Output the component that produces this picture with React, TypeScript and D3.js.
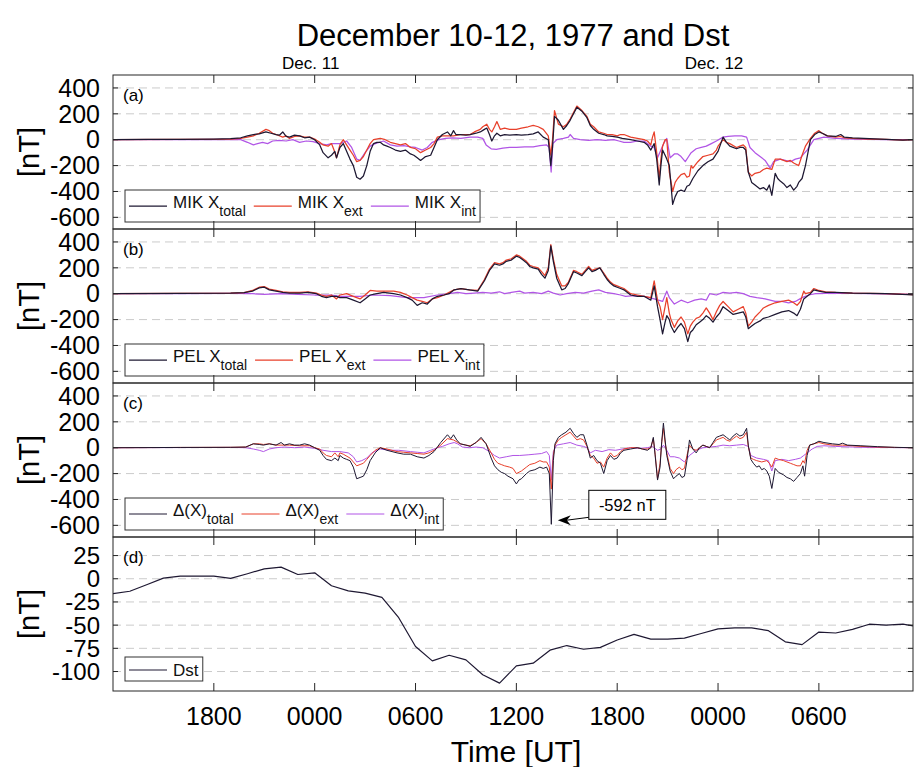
import React, { useEffect, useRef } from 'react';
import * as d3 from 'd3';

type Pt = [number, number];

// time axis: hours after 1200 UT, Dec. 10, 1977
const tEnd = 47.6;
const tickHours = [6, 12, 18, 24, 30, 36, 42];
const tickLabels = ['1800', '0000', '0600', '1200', '1800', '0000', '0600'];
const dayHours = [12, 36];
const dayLabels = ['Dec. 11', 'Dec. 12'];
const nTTicks = [400, 200, 0, -200, -400, -600];
const dstTicks = [25, 0, -25, -50, -75, -100];

// (a) MIK
const mikTotal: Pt[] = [[0,0],[2,2],[4,3],[6,5],[7,8],[7.6,15],[8,30],[8.35,40],[8.7,45],[9.1,60],[9.4,50],[9.7,40],[9.9,35],[10.1,60],[10.3,25],[10.5,20],[10.8,35],[11.1,30],[11.4,15],[11.7,20],[12.0,0],[12.3,-40],[12.5,-100],[12.8,-140],[13.0,-120],[13.2,-90],[13.3,-140],[13.5,-60],[13.7,-30],[13.9,-90],[14.1,-150],[14.3,-200],[14.5,-290],[14.7,-305],[14.9,-280],[15.1,-200],[15.3,-90],[15.5,-30],[15.7,-20],[15.9,-20],[16.1,-40],[16.3,-50],[16.5,-60],[16.8,-80],[17.1,-90],[17.4,-80],[17.7,-110],[17.9,-120],[18.1,-140],[18.3,-160],[18.6,-130],[18.9,-120],[19.1,-60],[19.3,0],[19.6,40],[19.9,60],[20.1,30],[20.26,70],[20.4,40],[20.66,40],[21.0,35],[21.25,40],[21.6,50],[21.85,60],[22.1,80],[22.24,90],[22.4,40],[22.54,-10],[22.7,30],[22.84,50],[23.04,30],[23.3,40],[23.6,35],[24.0,40],[24.3,35],[24.7,40],[25.0,45],[25.3,60],[25.6,20],[25.9,0],[26.05,-200],[26.15,-60],[26.27,180],[26.5,150],[26.8,80],[27.0,110],[27.2,150],[27.4,200],[27.6,250],[27.9,220],[28.2,170],[28.4,110],[28.6,80],[28.9,50],[29.2,40],[29.4,30],[29.7,25],[30.0,20],[30.3,10],[30.8,0],[31.2,-10],[31.6,-20],[31.8,-40],[32.0,-80],[32.2,-30],[32.35,-150],[32.5,-350],[32.6,-200],[32.7,-80],[32.85,-120],[32.95,-150],[33.1,-200],[33.3,-500],[33.45,-440],[33.6,-400],[33.8,-390],[34.0,-400],[34.15,-360],[34.3,-350],[34.5,-300],[34.8,-240],[35.1,-200],[35.4,-170],[35.7,-150],[35.9,-110],[36.0,-90],[36.3,20],[36.5,-20],[36.7,-50],[37.1,-70],[37.3,-60],[37.5,-60],[37.65,-80],[37.8,-250],[38.0,-330],[38.2,-350],[38.5,-380],[38.7,-370],[38.9,-390],[39.05,-350],[39.2,-430],[39.4,-260],[39.55,-300],[39.7,-320],[39.9,-340],[40.1,-370],[40.3,-350],[40.5,-390],[40.7,-360],[40.8,-330],[41.0,-300],[41.2,-200],[41.35,-100],[41.5,0],[41.75,40],[42.0,60],[42.2,50],[42.5,30],[43.0,25],[43.3,40],[43.5,20],[44,15],[45,8],[46,3],[47,-3],[47.6,0]];
const mikExt: Pt[] = [[0,0],[4,2],[7,5],[7.6,10],[8,20],[8.35,30],[8.7,50],[9.1,80],[9.3,70],[9.5,50],[9.7,40],[10.1,20],[10.3,30],[10.5,10],[10.8,25],[11.1,30],[11.4,20],[11.7,20],[12.0,5],[12.3,-20],[12.5,-40],[12.8,-50],[13.0,-30],[13.15,-80],[13.3,-140],[13.5,-40],[13.7,0],[13.9,-40],[14.1,-80],[14.3,-120],[14.5,-170],[14.7,-160],[14.9,-130],[15.1,-80],[15.3,-30],[15.5,0],[15.9,10],[16.2,0],[16.5,-20],[16.8,-30],[17.1,-40],[17.4,-30],[17.7,-60],[18.0,-70],[18.3,-100],[18.6,-80],[18.9,-60],[19.1,-30],[19.3,20],[19.6,30],[19.9,30],[20.26,30],[20.66,40],[21.0,40],[21.25,40],[21.5,60],[21.85,80],[22.0,100],[22.24,120],[22.4,80],[22.54,60],[22.7,100],[22.84,140],[23.04,80],[23.3,90],[23.6,80],[24.0,80],[24.3,90],[24.7,100],[25.0,110],[25.3,100],[25.6,80],[25.9,30],[26.05,-120],[26.15,0],[26.27,225],[26.5,120],[26.8,100],[27.0,120],[27.2,160],[27.4,210],[27.6,260],[27.9,225],[28.2,180],[28.4,120],[28.6,100],[28.9,60],[29.2,50],[29.4,40],[29.7,40],[30.0,30],[30.2,40],[30.4,40],[30.8,20],[31.2,10],[31.6,0],[31.8,-10],[32.0,-40],[32.1,20],[32.2,60],[32.35,-100],[32.5,-300],[32.6,-150],[32.7,-50],[32.85,0],[32.95,0],[33.1,-250],[33.3,-400],[33.45,-330],[33.6,-300],[33.8,-270],[34.0,-260],[34.15,-290],[34.3,-280],[34.4,-200],[34.5,-220],[34.8,-170],[35.1,-130],[35.4,-120],[35.7,-110],[35.9,-80],[36.0,-50],[36.3,0],[36.5,-20],[36.7,-30],[37.1,-60],[37.3,-50],[37.5,-40],[37.65,-60],[37.8,-250],[38.0,-280],[38.2,-260],[38.5,-250],[38.7,-230],[38.9,-220],[39.2,-230],[39.4,-150],[39.7,-150],[40.1,-170],[40.3,-160],[40.5,-180],[40.8,-200],[41.0,-120],[41.2,-50],[41.5,10],[41.75,50],[42.0,70],[42.2,50],[42.5,30],[43.0,20],[43.3,25],[43.5,15],[44,10],[45,5],[46,2],[47,-3],[47.6,0]];
const mikInt: Pt[] = [[0,0],[4,1],[7,3],[7.6,0],[8,-20],[8.35,-40],[8.6,-30],[8.9,-20],[9.2,-30],[9.5,-10],[9.9,-5],[10.3,-10],[10.7,0],[11.1,-20],[11.5,-10],[11.9,-15],[12.3,-30],[12.7,-40],[13.0,-30],[13.5,-30],[13.9,-10],[14.2,-60],[14.5,-150],[14.7,-160],[15.0,-100],[15.3,-50],[15.6,-30],[16.1,-10],[16.5,-40],[16.9,-50],[17.3,-45],[17.7,-55],[18.0,-60],[18.4,-80],[18.7,-60],[19.0,-20],[19.4,0],[19.8,10],[20.2,15],[20.7,10],[21.25,20],[21.7,20],[22.0,10],[22.2,-40],[22.5,-70],[22.8,-75],[23.2,-65],[23.6,-60],[24.0,-60],[24.5,-55],[25.0,-55],[25.4,-45],[25.8,-40],[25.95,-60],[26.07,-250],[26.17,-30],[26.4,0],[26.8,10],[27.1,20],[27.2,40],[27.4,10],[27.8,0],[28.3,-5],[28.8,0],[29.3,-5],[29.8,0],[30.1,-10],[30.4,-20],[30.8,-20],[31.2,-10],[31.6,-10],[32.0,-50],[32.2,-60],[32.4,-140],[32.6,-80],[32.8,-20],[32.95,10],[33.15,-140],[33.4,-110],[33.6,-110],[33.8,-130],[34.05,-170],[34.25,-130],[34.4,-100],[34.7,-70],[35.0,-60],[35.3,-50],[35.6,-30],[35.9,-10],[36.3,20],[36.6,25],[37.0,30],[37.4,30],[37.7,20],[37.9,-60],[38.2,-100],[38.5,-130],[38.8,-160],[39.1,-220],[39.3,-170],[39.7,-150],[40.0,-160],[40.3,-170],[40.6,-150],[40.9,-140],[41.1,-110],[41.3,-80],[41.5,-40],[41.7,0],[42.0,10],[42.3,20],[43,10],[44,5],[45,3],[46,0],[47.6,0]];

// (b) PEL
const pelTotal: Pt[] = [[0,0],[4,3],[7,5],[7.8,8],[8.3,20],[8.7,45],[9.0,50],[9.3,30],[9.7,20],[10.1,10],[10.5,5],[11.1,5],[11.6,10],[12.1,0],[12.4,-20],[12.7,-30],[13.0,-20],[13.3,-20],[13.5,-30],[13.9,-30],[14.3,-50],[14.7,-70],[15.0,-40],[15.3,-10],[15.7,0],[16.1,10],[16.7,0],[17.1,-10],[17.5,-30],[17.8,-50],[18.1,-90],[18.4,-70],[18.7,-80],[19.0,-40],[19.3,-20],[19.7,-10],[20.0,0],[20.3,30],[20.7,40],[21.2,30],[21.7,20],[22.1,100],[22.4,180],[22.7,230],[23.0,220],[23.2,230],[23.4,250],[23.7,260],[24.0,290],[24.2,280],[24.4,260],[24.6,240],[24.8,210],[25.0,200],[25.3,190],[25.5,150],[25.7,120],[25.9,180],[26.05,370],[26.2,250],[26.4,120],[26.7,30],[26.9,40],[27.1,80],[27.4,170],[27.6,160],[27.9,140],[28.1,170],[28.3,200],[28.5,170],[28.7,180],[28.97,200],[29.2,150],[29.4,110],[29.6,80],[29.8,60],[30.0,50],[30.2,40],[30.4,30],[30.8,-10],[31.2,-20],[31.6,-20],[32.0,-50],[32.2,60],[32.4,-100],[32.55,-200],[32.7,-310],[32.85,-220],[32.95,-170],[33.1,-200],[33.2,-250],[33.4,-300],[33.6,-260],[33.8,-230],[34.0,-270],[34.2,-370],[34.35,-300],[34.5,-280],[34.7,-240],[34.9,-220],[35.1,-200],[35.3,-170],[35.5,-190],[35.7,-220],[35.9,-180],[36.1,-150],[36.3,-100],[36.6,-130],[36.9,-160],[37.2,-150],[37.5,-140],[37.65,-180],[37.8,-270],[38.0,-250],[38.2,-230],[38.5,-210],[38.7,-190],[39.0,-180],[39.4,-160],[39.8,-140],[40.2,-130],[40.5,-150],[40.7,-170],[40.9,-120],[41.1,-40],[41.3,-20],[41.5,0],[41.7,30],[42.0,20],[42.4,10],[43,10],[44,5],[45,3],[46,0],[47.6,-10]];
const pelExt: Pt[] = [[0,0],[4,3],[7,5],[7.8,8],[8.3,25],[8.7,50],[9.0,55],[9.3,35],[9.7,25],[10.1,15],[10.5,10],[11.1,10],[11.6,15],[12.1,5],[12.4,-10],[12.7,-20],[13.0,-10],[13.3,-40],[13.5,-10],[13.9,0],[14.3,-20],[14.7,-40],[15.0,-10],[15.3,25],[15.7,20],[16.1,20],[16.7,20],[17.1,10],[17.5,-10],[17.8,-30],[18.1,-50],[18.4,-60],[18.7,-70],[19.0,-40],[19.3,-30],[19.7,-10],[20.0,10],[20.3,30],[20.7,40],[21.2,30],[21.7,25],[22.1,110],[22.4,190],[22.7,240],[23.0,230],[23.2,240],[23.4,260],[23.7,270],[24.0,300],[24.2,290],[24.4,270],[24.6,250],[24.8,220],[25.0,210],[25.3,200],[25.5,170],[25.7,140],[25.9,200],[26.05,380],[26.2,270],[26.4,150],[26.7,60],[26.9,60],[27.1,90],[27.4,180],[27.6,170],[27.9,150],[28.1,180],[28.3,210],[28.5,180],[28.7,190],[28.97,200],[29.2,160],[29.4,120],[29.6,90],[29.8,70],[30.0,60],[30.2,50],[30.4,40],[30.8,0],[31.2,-10],[31.6,-20],[32.0,-30],[32.2,100],[32.4,-50],[32.55,-100],[32.7,-200],[32.85,-100],[32.95,-30],[33.1,-150],[33.2,-200],[33.4,-260],[33.6,-210],[33.8,-180],[34.0,-220],[34.2,-310],[34.35,-250],[34.5,-220],[34.7,-190],[34.9,-180],[35.1,-150],[35.3,-110],[35.5,-150],[35.7,-200],[35.9,-140],[36.1,-90],[36.3,-60],[36.6,-100],[36.9,-140],[37.2,-120],[37.5,-100],[37.65,-150],[37.8,-250],[38.0,-220],[38.2,-180],[38.5,-140],[38.7,-110],[39.0,-90],[39.4,-70],[39.8,-60],[40.2,-50],[40.5,-70],[40.7,-90],[40.9,-60],[41.1,20],[41.2,0],[41.5,10],[41.7,40],[42.0,25],[42.4,15],[43,10],[44,5],[45,3],[46,0],[47.6,-8]];
const pelInt: Pt[] = [[0,0],[4,1],[7,2],[8.3,0],[9,-5],[10,0],[11,-5],[12,-10],[13,-10],[13.5,-20],[14.7,-20],[15.5,-10],[16.5,-15],[17.5,-30],[18.5,-30],[19.3,-10],[20,0],[20.5,10],[21,0],[21.5,5],[22,10],[22.5,5],[23,15],[23.3,0],[23.7,10],[24.2,20],[24.5,5],[25,10],[25.5,0],[25.9,20],[26.2,5],[26.6,-10],[27,0],[27.5,10],[28,5],[28.5,20],[28.9,30],[29.3,10],[29.8,0],[30.2,-10],[30.5,-20],[31,-15],[31.6,-20],[32.2,-40],[32.7,-60],[32.95,20],[33.1,-30],[33.4,-80],[33.8,-50],[34.2,-70],[34.6,-50],[35.0,-40],[35.3,-50],[35.5,0],[35.9,-10],[36.3,10],[36.7,5],[37.1,10],[37.5,0],[37.9,-20],[38.3,-30],[38.8,-40],[39.4,-60],[39.8,-60],[40.2,-70],[40.6,-60],[41.0,-30],[41.4,-10],[41.8,0],[43,5],[45,0],[47.6,-5]];

// (c) MIK - PEL differences
const dTotal: Pt[] = [[0,0],[4,2],[7,3],[7.9,5],[8.35,30],[8.7,25],[8.95,20],[9.3,30],[9.7,20],[10.0,40],[10.2,20],[10.5,30],[10.8,20],[11.1,20],[11.4,30],[11.7,20],[12.0,0],[12.3,-20],[12.5,-60],[12.7,-90],[13.0,-100],[13.2,-80],[13.4,-100],[13.5,-60],[13.7,-80],[13.9,-90],[14.1,-100],[14.3,-150],[14.5,-240],[14.7,-230],[14.9,-220],[15.1,-170],[15.3,-100],[15.6,-40],[15.9,0],[16.3,-20],[16.6,-30],[16.9,-40],[17.3,-50],[17.7,-50],[18.1,-70],[18.5,-80],[18.8,-60],[19.1,-30],[19.5,40],[19.9,100],[20.1,70],[20.26,100],[20.45,60],[20.66,30],[21.0,20],[21.25,10],[21.6,40],[21.9,80],[22.2,30],[22.5,-80],[22.7,-140],[22.9,-170],[23.1,-190],[23.3,-200],[23.5,-220],[23.8,-240],[24.0,-280],[24.15,-250],[24.3,-240],[24.6,-200],[24.8,-180],[25.1,-170],[25.4,-150],[25.6,-160],[25.8,-150],[25.96,-200],[26.08,-592],[26.2,-100],[26.3,30],[26.5,80],[26.7,100],[26.95,120],[27.2,150],[27.4,110],[27.6,80],[27.8,100],[28.0,100],[28.2,20],[28.4,-80],[28.6,-60],[28.8,-100],[29.0,-120],[29.2,-200],[29.4,-100],[29.6,-60],[29.8,-90],[30.0,-80],[30.2,-40],[30.4,-20],[30.8,-10],[31.2,0],[31.5,-10],[31.8,-20],[32.0,0],[32.15,80],[32.25,-50],[32.4,-250],[32.55,-150],[32.65,50],[32.75,190],[32.85,60],[32.95,-60],[33.15,-180],[33.35,-240],[33.5,-220],[33.7,-200],[33.85,-230],[34.0,-220],[34.15,-100],[34.3,60],[34.5,-10],[34.7,-40],[34.9,0],[35.1,20],[35.3,10],[35.5,0],[35.7,40],[35.9,80],[36.1,90],[36.3,100],[36.5,80],[36.7,60],[36.9,90],[37.1,110],[37.3,90],[37.5,100],[37.7,150],[37.8,20],[37.95,-90],[38.1,-120],[38.3,-150],[38.45,-140],[38.6,-170],[38.75,-160],[38.9,-180],[39.05,-220],[39.2,-315],[39.4,-160],[39.6,-190],[39.9,-210],[40.1,-230],[40.3,-240],[40.5,-260],[40.7,-230],[40.9,-200],[41.05,-140],[41.15,-220],[41.3,-60],[41.45,20],[41.7,30],[42.0,50],[42.3,40],[42.8,30],[43.2,25],[43.4,35],[43.7,20],[44.5,15],[45.5,8],[46.5,3],[47.6,0]];
const dExt: Pt[] = [[0,0],[4,2],[7,3],[7.9,5],[8.35,30],[8.7,30],[8.95,25],[9.3,30],[9.7,20],[10.0,20],[10.5,20],[11.1,15],[11.7,15],[12.0,0],[12.3,-10],[12.5,-40],[12.7,-60],[13.0,-70],[13.2,-40],[13.4,-70],[13.5,-40],[13.7,-50],[14.1,-80],[14.3,-110],[14.5,-140],[14.7,-130],[14.9,-120],[15.1,-90],[15.3,-60],[15.6,-20],[15.9,0],[16.3,-10],[16.6,-20],[16.9,-30],[17.3,-35],[17.7,-40],[18.1,-45],[18.5,-50],[18.8,-40],[19.1,-20],[19.5,20],[19.9,70],[20.26,60],[20.66,30],[21.0,20],[21.25,15],[21.6,40],[21.9,70],[22.2,30],[22.5,-40],[22.7,-90],[22.9,-120],[23.1,-130],[23.3,-140],[23.6,-150],[23.8,-160],[24.0,-200],[24.3,-180],[24.6,-150],[24.8,-130],[25.1,-120],[25.4,-100],[25.6,-110],[25.8,-110],[25.96,-150],[26.08,-320],[26.2,-60],[26.3,20],[26.5,60],[26.7,80],[26.95,100],[27.2,120],[27.4,90],[27.6,60],[27.8,70],[28.0,60],[28.2,10],[28.4,-60],[28.6,-80],[28.8,-120],[29.0,-110],[29.2,-150],[29.4,-80],[29.6,-40],[29.8,-70],[30.0,-60],[30.2,-30],[30.4,-10],[30.8,0],[31.2,0],[31.5,-10],[31.8,-10],[32.0,0],[32.15,70],[32.25,-40],[32.4,-240],[32.55,-120],[32.65,40],[32.75,150],[32.85,40],[32.95,-40],[33.15,-160],[33.35,-200],[33.5,-170],[33.7,-150],[33.85,-170],[34.0,-160],[34.15,-60],[34.3,20],[34.5,-10],[34.7,-20],[34.9,0],[35.1,20],[35.5,0],[35.7,30],[35.9,60],[36.1,70],[36.3,80],[36.5,60],[36.7,50],[36.9,70],[37.1,90],[37.3,70],[37.5,80],[37.7,120],[37.8,10],[37.95,-80],[38.1,-90],[38.3,-100],[38.6,-110],[38.9,-100],[39.05,-120],[39.2,-150],[39.4,-80],[39.6,-90],[39.9,-100],[40.1,-110],[40.3,-120],[40.5,-130],[40.7,-140],[40.9,-140],[41.05,-100],[41.15,-120],[41.3,-20],[41.45,20],[41.7,30],[42.0,40],[42.3,30],[42.8,20],[43.4,20],[44.5,10],[45.5,5],[46.5,2],[47.6,0]];
const dInt: Pt[] = [[0,0],[4,1],[7,2],[7.9,0],[8.35,-10],[8.7,-20],[8.95,-30],[9.3,-10],[9.7,0],[10.2,5],[10.8,0],[11.4,5],[12.0,-5],[12.5,-20],[13.0,-30],[13.5,-30],[14.0,-40],[14.3,-70],[14.5,-110],[14.8,-100],[15.1,-80],[15.4,-40],[15.9,-10],[16.5,-20],[17.0,-20],[17.7,-30],[18.1,-35],[18.5,-40],[18.9,-20],[19.3,0],[19.6,10],[20.0,30],[20.3,40],[20.5,30],[20.8,5],[21.2,0],[21.6,5],[22.0,0],[22.4,-30],[22.7,-60],[23.0,-80],[23.4,-70],[23.8,-60],[24.2,-60],[24.7,-55],[25.1,-50],[25.5,-45],[25.8,-30],[25.96,-60],[26.08,-250],[26.2,-30],[26.4,20],[26.8,30],[27.2,40],[27.6,20],[28.0,10],[28.2,0],[28.4,-40],[28.7,-20],[29.1,-30],[29.5,-15],[29.9,-20],[30.3,-10],[30.8,0],[31.3,-5],[31.8,0],[32.1,10],[32.4,-20],[32.6,-10],[32.75,20],[32.95,-20],[33.15,-70],[33.4,-70],[33.7,-80],[34.0,-110],[34.3,-60],[34.7,-20],[35.1,0],[35.5,5],[35.9,10],[36.3,20],[36.7,15],[37.1,20],[37.5,25],[37.8,10],[37.95,-60],[38.3,-80],[38.7,-90],[39.0,-100],[39.2,-180],[39.4,-100],[39.8,-90],[40.2,-100],[40.6,-90],[40.9,-80],[41.1,-60],[41.3,-40],[41.6,-10],[41.9,10],[42.3,15],[43,10],[44,5],[45,2],[47.6,0]];

// (d) hourly Dst, one value per hour from t = 0
const dstHourly = [-16,-13.5,-6.5,0.7,2.9,2.9,2.9,0.4,5.4,10.7,12.5,4.6,6.4,-7.5,-13,-15.5,-20,-42,-73,-88.5,-82.5,-87.5,-103.5,-112.5,-94,-91,-77,-72,-76,-74,-66,-60,-65,-65,-64,-59,-54,-53,-53,-56,-68,-71,-57.5,-58.5,-54.5,-49,-50,-49,-52];

const peakT = 26.08;
const peakV = -592;

const C_TOT = '#1e1832';
const C_EXT = '#e8402b';
const C_INT = '#b155e6';
const FONT = '"Liberation Sans", Arial, Helvetica, sans-serif';

const App = () => {
  const ref = useRef<SVGSVGElement>(null);

  useEffect(() => {
    const svg = d3.select(ref.current);
    svg.selectAll('*').remove();

    const left = 113, right = 913, top = 75, ph = 154;
    const x = d3.scaleLinear().domain([0, tEnd]).range([left, right]);

    const dstPts: Pt[] = dstHourly.map((v, i) => [i, v]);

    const panels = [
      { tag: '(a)', ticks: nTTicks, dom: [-690, 500], lw: 1.25, series: [
        { d: mikTotal, c: C_TOT, main: 'MIK X', sub: 'total' },
        { d: mikExt, c: C_EXT, main: 'MIK X', sub: 'ext' },
        { d: mikInt, c: C_INT, main: 'MIK X', sub: 'int' }] },
      { tag: '(b)', ticks: nTTicks, dom: [-690, 500], lw: 1.25, series: [
        { d: pelTotal, c: C_TOT, main: 'PEL X', sub: 'total' },
        { d: pelExt, c: C_EXT, main: 'PEL X', sub: 'ext' },
        { d: pelInt, c: C_INT, main: 'PEL X', sub: 'int' }] },
      { tag: '(c)', ticks: nTTicks, dom: [-690, 500], lw: 1.0, series: [
        { d: dTotal, c: C_TOT, main: '\u0394(X)', sub: 'total' },
        { d: dExt, c: C_EXT, main: '\u0394(X)', sub: 'ext' },
        { d: dInt, c: C_INT, main: '\u0394(X)', sub: 'int' }] },
      { tag: '(d)', ticks: dstTicks, dom: [-121, 45], lw: 1.2, series: [
        { d: dstPts, c: C_TOT, main: 'Dst', sub: '' }] },
    ];

    panels.forEach((p, i) => {
      const y0 = top + i * ph;
      const y1 = y0 + ph;
      const y = d3.scaleLinear().domain(p.dom).range([y1, y0]);
      const g = svg.append('g');

      const clipId = `clip-${i}`;
      svg.append('clipPath').attr('id', clipId)
        .append('rect').attr('x', left).attr('y', y0).attr('width', right - left).attr('height', ph);

      // dashed grid
      g.selectAll('.grid').data(p.ticks).enter().append('line')
        .attr('x1', left).attr('x2', right)
        .attr('y1', d => y(d)).attr('y2', d => y(d))
        .attr('stroke', '#cbcbcb').attr('stroke-width', 1).attr('stroke-dasharray', '8,5');

      // series
      const line = d3.line<Pt>().x(d => x(d[0])).y(d => y(d[1]));
      const lg = g.append('g').attr('clip-path', `url(#${clipId})`);
      p.series.slice().reverse().forEach(s => {
        lg.append('path').attr('d', line(s.d) as string)
          .attr('fill', 'none').attr('stroke', s.c).attr('stroke-width', p.lw)
          .attr('stroke-linejoin', 'round');
      });

      // legend
      const single = p.series.length === 1;
      const bh = single ? 24 : 32;
      const by = y1 - (single ? 10 : 7) - bh;
      const bx = 125;
      const leg = g.append('g');
      const box = leg.append('rect').attr('x', bx).attr('y', by).attr('height', bh)
        .attr('fill', '#fff').attr('stroke', '#333').attr('stroke-width', 1);
      let cx = bx + 4;
      p.series.forEach(s => {
        const ly = by + (single ? 13 : 16);
        leg.append('line').attr('x1', cx).attr('x2', cx + 38).attr('y1', ly).attr('y2', ly)
          .attr('stroke', s.c).attr('stroke-width', p.lw);
        const t = leg.append('text').attr('x', cx + 44).attr('y', by + (single ? 19 : 18))
          .attr('font-family', FONT).attr('font-size', 17).attr('fill', '#111');
        t.append('tspan').text(s.main);
        if (s.sub) t.append('tspan').attr('dy', 8).attr('font-size', 14).text(s.sub);
        const bb = (t.node() as SVGTextElement).getBBox();
        cx = bb.x + bb.width + 8;
      });
      box.attr('width', cx - 8 + 4 - bx);

      // frame
      g.append('rect').attr('x', left).attr('y', y0).attr('width', right - left).attr('height', ph)
        .attr('fill', 'none').attr('stroke', '#262626').attr('stroke-width', 1);

      // x ticks (inward, top and bottom)
      tickHours.forEach(h => {
        g.append('line').attr('x1', x(h)).attr('x2', x(h)).attr('y1', y0).attr('y2', y0 + 8)
          .attr('stroke', '#262626');
        g.append('line').attr('x1', x(h)).attr('x2', x(h)).attr('y1', y1).attr('y2', y1 - 8)
          .attr('stroke', '#262626');
      });
      // y ticks + labels
      const tfs = single ? 24 : 25;
      p.ticks.forEach(v => {
        g.append('line').attr('x1', left).attr('x2', left + 5).attr('y1', y(v)).attr('y2', y(v))
          .attr('stroke', '#262626');
        g.append('line').attr('x1', right).attr('x2', right - 5).attr('y1', y(v)).attr('y2', y(v))
          .attr('stroke', '#262626');
        g.append('text').attr('x', left - 13).attr('y', y(v)).attr('dy', '0.35em')
          .attr('text-anchor', 'end').attr('font-family', FONT).attr('font-size', tfs)
          .attr('fill', '#000').text(String(v));
      });

      g.append('text').attr('transform', `translate(39,${(y0 + y1) / 2}) rotate(-90)`)
        .attr('text-anchor', 'middle').attr('font-family', FONT).attr('font-size', 29)
        .text('[nT]');

      g.append('text').attr('x', left + 10).attr('y', y0 + 26)
        .attr('font-family', FONT).attr('font-size', 17).text(p.tag);

      if (i === 2) {
        // -592 nT callout
        const tx = x(peakT) + 6.5, ty = y(peakV) - 4;
        const bxl = tx + 31, byt = ty - 30;
        g.append('line').attr('x1', bxl).attr('y1', ty - 3).attr('x2', tx + 8).attr('y2', ty)
          .attr('stroke', '#000').attr('stroke-width', 1);
        g.append('path')
          .attr('d', `M${tx},${ty} L${tx + 13},${ty - 5} L${tx + 9},${ty} L${tx + 13},${ty + 5} Z`)
          .attr('fill', '#000');
        g.append('rect').attr('x', bxl).attr('y', byt).attr('width', 77).attr('height', 29)
          .attr('fill', '#fff').attr('stroke', '#000');
        g.append('text').attr('x', bxl + 38.5).attr('y', byt + 20.5).attr('text-anchor', 'middle')
          .attr('font-family', FONT).attr('font-size', 16.5).text(`${peakV} nT`);
      }

      if (i === panels.length - 1) {
        tickHours.forEach((h, k) => {
          g.append('text').attr('x', x(h)).attr('y', y1 + 34).attr('text-anchor', 'middle')
            .attr('font-family', FONT).attr('font-size', 25).text(tickLabels[k]);
        });
      }
    });

    // day labels above top panel
    dayHours.forEach((h, k) => {
      svg.append('text').attr('x', x(h) - 4).attr('y', 69).attr('text-anchor', 'middle')
        .attr('font-family', FONT).attr('font-size', 17).text(dayLabels[k]);
    });

    svg.append('text').attr('x', (left + right) / 2).attr('y', 46).attr('text-anchor', 'middle')
      .attr('font-family', FONT).attr('font-size', 31).text('December 10-12, 1977 and Dst');

    svg.append('text').attr('x', (left + right) / 2 + 3).attr('y', 762).attr('text-anchor', 'middle')
      .attr('font-family', FONT).attr('font-size', 30).text('Time [UT]');

    return () => { svg.selectAll('*').remove(); };
  }, []);

  return (
    <div style={{ position: 'absolute', left: 0, top: 0 }}>
      <svg ref={ref} width={914} height={767} style={{ display: 'block', background: '#fff' }} />
    </div>
  );
};

export default App;
